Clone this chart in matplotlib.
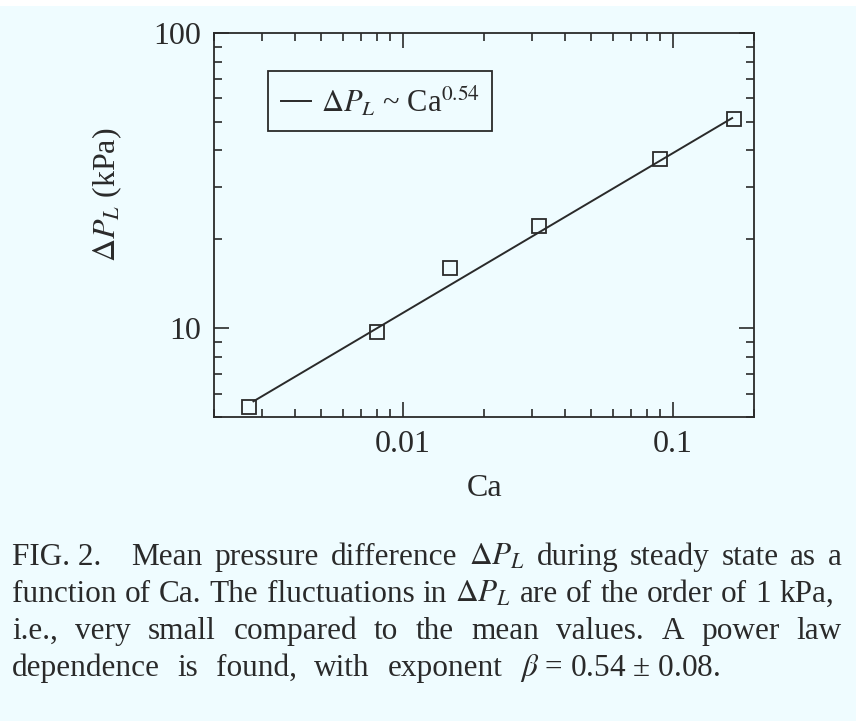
import matplotlib

matplotlib.use("Agg")
import matplotlib.pyplot as plt
from matplotlib.patches import Rectangle
from matplotlib.ticker import FixedLocator, FixedFormatter, LogLocator, NullFormatter

# data
ca = [0.0027, 0.0080, 0.0150, 0.0320, 0.0900, 0.1690]
dp = [5.4, 9.7, 16.0, 22.2, 37.4, 51.0]
fit_ca = [0.0028, 0.166]
fit_dp = [5.65, 51.5]
fit_label = r"$\Delta P_L$ ~ Ca$^{0.54}$"

x_ticks = [0.01, 0.1]
x_ticklabels = ["0.01", "0.1"]
y_ticks = [10, 100]
y_ticklabels = ["10", "100"]

caption_lines = [
    ["Mean", "pressure", "difference", r"$\Delta P_L$", "during", "steady", "state", "as", "a"],
    ["function", "of", "Ca.", "The", "fluctuations", "in", r"$\Delta P_L$", "are", "of", "the",
     "order", "of", "1", "kPa,"],
    ["i.e.,", "very", "small", "compared", "to", "the", "mean", "values.", "A", "power", "law"],
    ["dependence", "is", "found,", "with", "exponent", r"$\beta$ = 0.54 ± 0.08."],
]

BG = "#effcff"
INK = "#2a2a2a"
W, H = 856, 721

plt.rcParams["font.family"] = "serif"
plt.rcParams["font.serif"] = ["Liberation Serif", "DejaVu Serif"]
plt.rcParams["mathtext.fontset"] = "stix"
plt.rcParams["text.color"] = INK

fig = plt.figure(figsize=(W / 100, H / 100), dpi=100, facecolor=BG)
fig.patches.append(Rectangle((0, 1 - 6 / H), 1, 6 / H, transform=fig.transFigure,
                             facecolor="white", edgecolor="none"))

ax = fig.add_axes([214 / W, 1 - 417 / H, 540 / W, 384 / H], facecolor=BG)
ax.set_xscale("log")
ax.set_yscale("log")
ax.set_xlim(0.002, 0.2)
ax.set_ylim(5, 100)

ax.plot(fit_ca, fit_dp, color=INK, lw=1.4, label=fit_label)
ax.plot(ca, dp, ls="none", marker="s", ms=9.5, mfc="none", mec=INK, mew=1.3)

ax.xaxis.set_major_locator(FixedLocator(x_ticks))
ax.xaxis.set_major_formatter(FixedFormatter(x_ticklabels))
ax.yaxis.set_major_locator(FixedLocator(y_ticks))
ax.yaxis.set_major_formatter(FixedFormatter(y_ticklabels))
for axis in (ax.xaxis, ax.yaxis):
    axis.set_minor_locator(LogLocator(base=10, subs=range(2, 10)))
    axis.set_minor_formatter(NullFormatter())

ax.tick_params(which="both", direction="in", top=True, right=True, colors=INK,
               labelsize=23, width=1.2)
ax.tick_params(which="major", length=11, pad=9)
ax.tick_params(which="minor", length=5.5)
for sp in ax.spines.values():
    sp.set_linewidth(1.3)
    sp.set_color(INK)

fig.text(107 / W, 1 - 195 / H, r"$\Delta P_L$ (kPa)", rotation=90, ha="center",
         va="center", fontsize=23)
fig.text(485 / W, 1 - 488 / H, "Ca", ha="center", va="center", fontsize=23)

leg = ax.legend(loc="upper left", bbox_to_anchor=(0.1, 0.901), borderaxespad=0,
                fontsize=22, handlelength=1.0, handletextpad=0.3, fancybox=False,
                framealpha=1, facecolor=BG, edgecolor=INK, borderpad=0.42)
leg.get_frame().set_linewidth(1.3)

# justified caption
renderer = fig.canvas.get_renderer()
cap_size = 22.5
left_px, right_px = 12, 842
baselines = [565, 602, 639, 676]


def place_words(words, x_start, x_end, y):
    texts = [fig.text(0, 1 - y / H, w, fontsize=cap_size, va="baseline") for w in words]
    widths = [t.get_window_extent(renderer).width for t in texts]
    gap = (x_end - x_start - sum(widths)) / (len(words) - 1)
    x = x_start
    for t, w in zip(texts, widths):
        t.set_x(x / W)
        x += w + gap


head = fig.text(left_px / W, 1 - baselines[0] / H, "FIG. 2.", fontsize=cap_size, va="baseline")
head_w = head.get_window_extent(renderer).width
place_words(caption_lines[0], left_px + head_w + 30, right_px, baselines[0])
place_words(caption_lines[1], left_px, right_px - 8, baselines[1])
place_words(caption_lines[2], left_px, right_px, baselines[2])
place_words(caption_lines[3], left_px, 720, baselines[3])

fig.savefig("out.png", dpi=100, facecolor=BG)
